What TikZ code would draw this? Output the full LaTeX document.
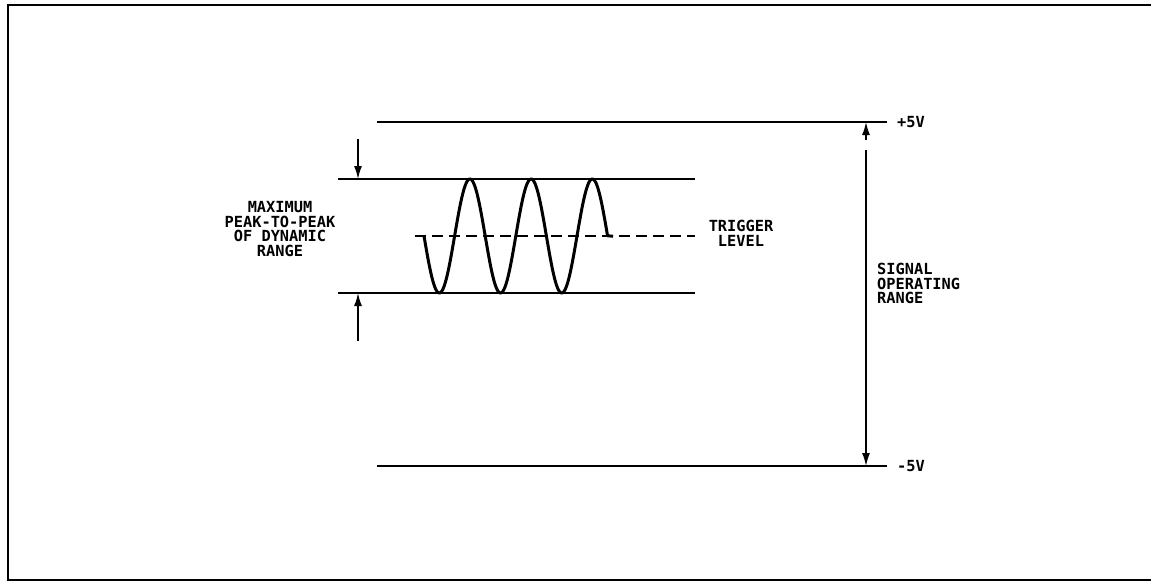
\documentclass[tikz,border=0pt]{standalone}
\usepackage{fontspec}
\setmonofont{DejaVu Sans Mono}
\usetikzlibrary{arrows.meta}
\begin{document}
\begin{tikzpicture}[x=1pt,y=-1pt,
  lbl/.style={font=\ttfamily\bfseries\fontsize{15.3}{14.5}\selectfont, inner sep=0pt, align=center},
  rail/.style={line width=1.8pt},
  dim/.style={line width=1.5pt, -{Latex[length=13pt,width=8pt]}},
  wave/.style={line width=3pt},
  trig/.style={line width=1.5pt, dash pattern=on 11pt off 6pt}]
\useasboundingbox (0,0) rectangle (1151,581);
% frame (top, left, bottom)
\draw[line width=2.6pt] (1155,5) -- (8,5) -- (8,580) -- (1155,580);
% rails
\draw[rail] (377,122) coordinate (p5a) -- (887,122) coordinate (p5b);
\draw[rail] (377,466) coordinate (m5a) -- (887,466) coordinate (m5b);
\draw[rail] (338,179) -- (695,179);
\draw[rail] (338,293) -- (695,293);
% trigger dashed line
\draw[trig] (415,236) -- (695,236);
% sine wave
\draw[wave, line join=round] plot[domain=0:183.6, samples=240, smooth] ({424+\x},{236+57*sin(5.8824*\x)}) -- (613,236);
% left dimension arrows
\coordinate (ua) at (358,139); \coordinate (ub) at (358,179);
\coordinate (la) at (358,341); \coordinate (lb) at (358,293);
\draw[dim] (ua) -- (ub);
\draw[dim] (la) -- (lb);
% signal operating range arrow
\coordinate (sa) at (866,150); \coordinate (sb) at (866,466);
\coordinate (ta) at (866,140); \coordinate (tb) at (866,122);
\draw[dim] (sa) -- (sb);
\draw[dim] (ta) -- (tb);
% labels
\node[lbl, anchor=west] (plus) at (897,122) {+5V};
\node[lbl, anchor=west] (minus) at (897,466) {-5V};
\node[lbl] (maxpp) at (280,229) {MAXIMUM\\PEAK-TO-PEAK\\OF DYNAMIC\\RANGE};
\node[lbl] (trg) at (741,233.5) {TRIGGER\\LEVEL};
\node[lbl, align=left, anchor=west] (sor) at (877,283.5) {SIGNAL\\OPERATING\\RANGE};
\end{tikzpicture}
\end{document}
